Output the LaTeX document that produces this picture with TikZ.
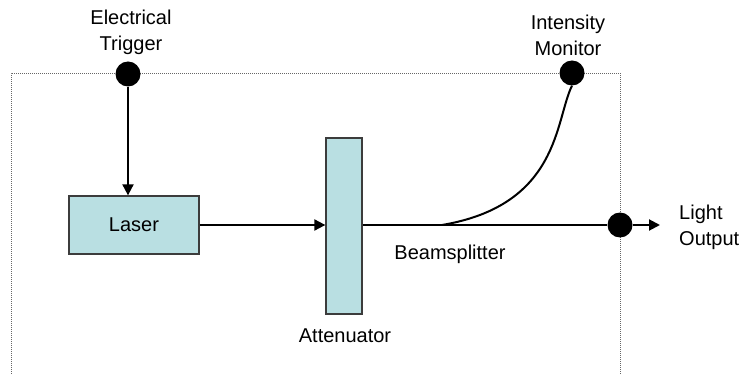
\documentclass[tikz,border=0pt]{standalone}
\usepackage{fontspec}
\setmainfont{Liberation Sans}
\usetikzlibrary{arrows.meta}
\definecolor{boxfill}{RGB}{185,223,226}
\definecolor{boxedge}{RGB}{60,60,60}
\begin{document}
\begin{tikzpicture}[x=1pt,y=-1pt,
  lbl/.style={font=\fontsize{20}{26}\selectfont, inner sep=0pt, align=center},
  part/.style={draw=boxedge, line width=1.3pt, fill=boxfill, inner sep=0pt},
  port/.style={circle, fill=black, minimum size=25pt, inner sep=0pt},
  beam/.style={line width=2pt},
  tip/.style={-{Triangle[length=11pt,width=11pt]}}]
\useasboundingbox (0,0) rectangle (739,374);
\clip (0,0) rectangle (739,374);
% housing outline
\draw[gray!80!black, line width=0.9pt, dash pattern=on 1pt off 1pt] (11,400) -- (11,73) -- (620,73) -- (620,400);
% components
\node[part, minimum width=130pt, minimum height=58pt] (laser) at (134,225) {};
\node[lbl] at (laser.center) {Laser};
\node[part, minimum width=36pt, minimum height=176pt] (att) at (344,226) {};
\node[lbl] (attl) at (345,336) {Attenuator};
% ports on the housing
\node[port] (trig) at (128,74) {};
\node[port] (mon) at (572,73) {};
\node[port] (out) at (620,225) {};
\node[lbl] (trigl) at (131,32) {Electrical\\Trigger};
\node[lbl] (monl) at (568,35) {Intensity\\Monitor};
\node[lbl, align=left, anchor=west] (outl) at (679,227) {Light\\Output};
\node[lbl] (bsl) at (450,254) {Beamsplitter};
\coordinate (split) at (442,225);
\coordinate (outend) at (660,225);
% connections
\draw[beam, tip] (trig) -- (laser.north -| trig);
\draw[beam, tip] (laser.east) -- (att.west |- laser.east);
\draw[beam] (att.east |- out) -- (out);
\draw[beam, tip] (out) -- (outend);
\draw[beam] (split) .. controls (560,205) and (555,120) .. (mon.south);
\end{tikzpicture}
\end{document}
